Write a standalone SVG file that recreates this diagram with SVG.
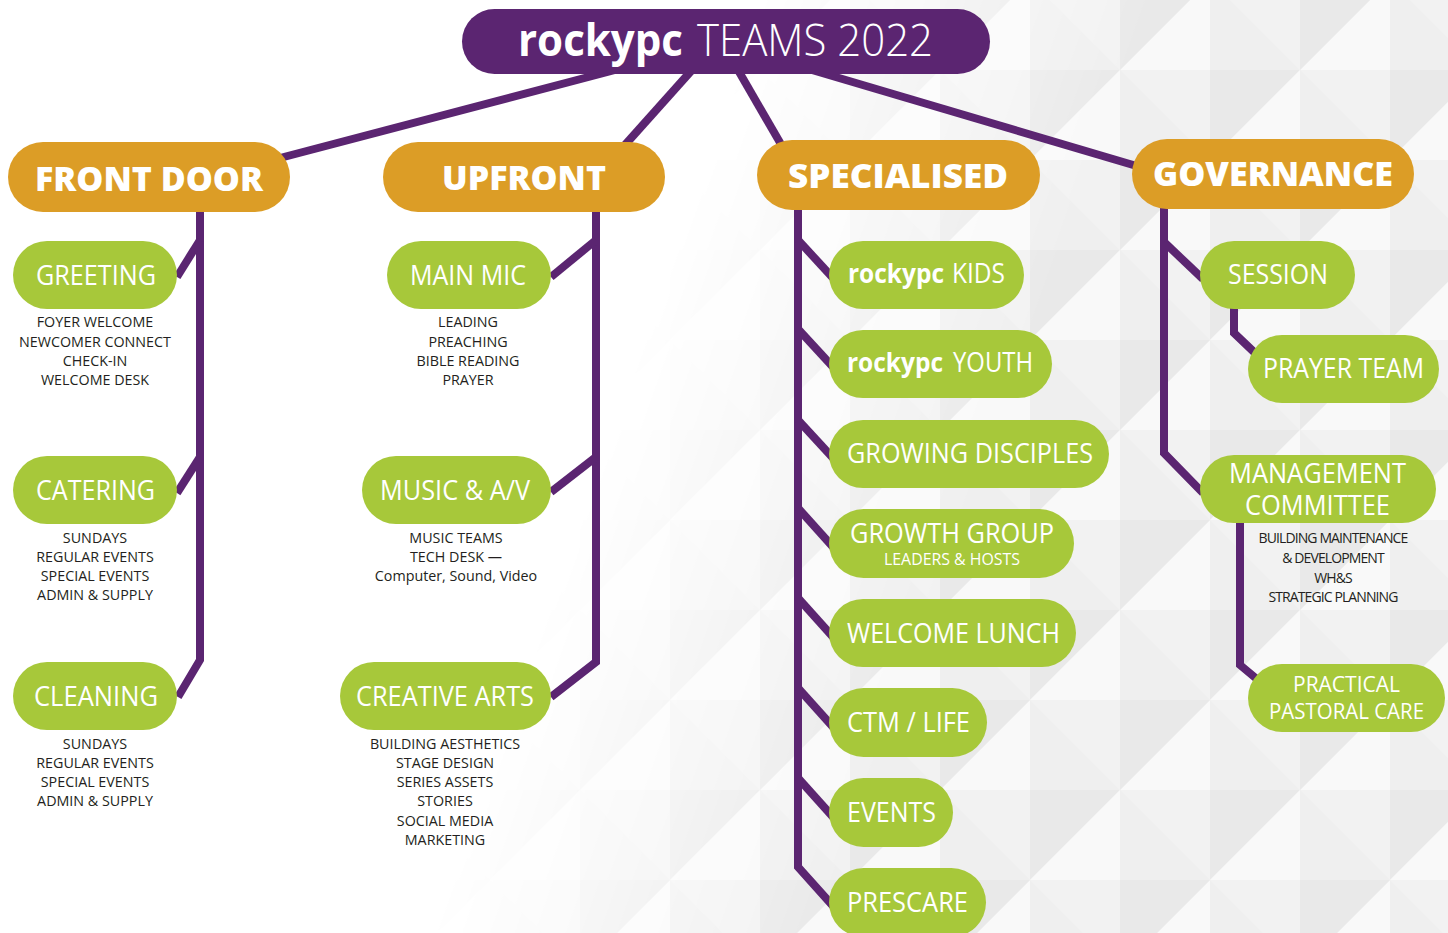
<svg xmlns="http://www.w3.org/2000/svg" width="1448" height="933" viewBox="0 0 1448 933">
<defs>
<style>
.conn{fill:none;stroke:#5b2571;stroke-width:8;stroke-linejoin:miter;stroke-linecap:butt}
.title{fill:#5b2571}
.cat{fill:#dc9d26}
.team{fill:#a7c83a}
.ct{font-family:"Open Sans","Noto Sans",sans-serif;font-weight:800;font-size:33px;fill:#fff}
.tl{font-family:"Open Sans","Noto Sans",sans-serif;font-weight:400;font-size:27px;fill:#fff}
.ts{font-family:"Open Sans","Noto Sans",sans-serif;font-weight:400;font-size:16px;fill:#fff}
.tm{font-family:"Open Sans","Noto Sans",sans-serif;font-weight:400;font-size:22px;fill:#fff}
.tb{font-family:"Open Sans","Noto Sans",sans-serif;font-weight:700;font-size:27px;fill:#fff}
.sub{font-family:"Open Sans","Noto Sans",sans-serif;font-weight:400;font-size:14.3px;fill:#231f20;text-anchor:middle}
.subc{font-family:"Open Sans","Noto Sans",sans-serif;font-weight:400;font-size:14px;fill:#231f20;text-anchor:middle;letter-spacing:-0.9px}
</style>
<pattern id="facets" width="180" height="180" patternUnits="userSpaceOnUse" x="40" y="-20">
<rect width="180" height="180" fill="#f3f3f3"/>
<polygon points="90,0 180,90 90,90" fill="#efefef"/>
<polygon points="180,90 90,180 90,90" fill="#e9e9e9"/>
<polygon points="90,180 0,90 90,90" fill="#f2f2f2"/>
<polygon points="0,90 90,0 90,90" fill="#f9f9f9"/>
<polygon points="0,0 90,0 0,90" fill="#e9e9e9"/>
<polygon points="180,0 180,90 90,0" fill="#f2f2f2"/>
<polygon points="0,180 0,90 90,180" fill="#efefef"/>
<polygon points="180,180 90,180 180,90" fill="#f9f9f9"/>
</pattern>
<linearGradient id="fadeG" gradientUnits="userSpaceOnUse" x1="600" y1="450" x2="950" y2="574">
<stop offset="0" stop-color="#000"/>
<stop offset="1" stop-color="#fff"/>
</linearGradient>
<mask id="fadeM">
<rect width="1448" height="933" fill="url(#fadeG)"/>
</mask>
</defs>

<rect width="1448" height="933" fill="#fff"/>
<rect width="1448" height="933" fill="url(#facets)" mask="url(#fadeM)"/>

<g id="connectors">
<line class="conn" x1="615" y1="70" x2="280" y2="158"/>
<line class="conn" x1="692" y1="70" x2="624" y2="146"/>
<line class="conn" x1="738" y1="70" x2="782" y2="146"/>
<line class="conn" x1="812" y1="70" x2="1140" y2="167"/>

<polyline class="conn" points="200,208 200,660 178,697"/>
<line class="conn" x1="200" y1="240" x2="177" y2="277"/>
<line class="conn" x1="200" y1="457" x2="177" y2="493"/>

<polyline class="conn" points="596,208 596,662 551,697"/>
<line class="conn" x1="596" y1="240" x2="551" y2="277"/>
<line class="conn" x1="596" y1="457" x2="551" y2="492"/>

<polyline class="conn" points="798,206 798,867 833,906"/>
<line class="conn" x1="798" y1="240" x2="833" y2="278"/>
<line class="conn" x1="798" y1="329" x2="833" y2="367"/>
<line class="conn" x1="798" y1="420" x2="833" y2="458"/>
<line class="conn" x1="798" y1="508" x2="833" y2="547"/>
<line class="conn" x1="798" y1="598" x2="833" y2="637"/>
<line class="conn" x1="798" y1="688" x2="833" y2="727"/>
<line class="conn" x1="798" y1="778" x2="833" y2="817"/>

<polyline class="conn" points="1164,205 1164,453 1203,493"/>
<line class="conn" x1="1164" y1="242" x2="1203" y2="279"/>
<polyline class="conn" points="1234,305 1234,333 1255,353"/>
<polyline class="conn" points="1240,520 1240,665 1258,680"/>
</g>

<g id="title">
<rect class="title" x="462" y="9" width="528" height="65" rx="32.5"/>
<text x="518" y="56" font-family="Open Sans, Noto Sans, sans-serif" font-weight="700" font-size="45" fill="#fff" textLength="165" lengthAdjust="spacingAndGlyphs">rockypc</text>
<text x="697" y="56" font-family="Open Sans, Noto Sans, sans-serif" font-weight="300" font-size="45" fill="#fff" textLength="236" lengthAdjust="spacingAndGlyphs">TEAMS 2022</text>
</g>

<g id="front-door">
<rect class="cat" x="8" y="142" width="282" height="70" rx="35"/>
<text class="ct" x="35" y="191" textLength="228" lengthAdjust="spacingAndGlyphs">FRONT DOOR</text>
</g>
<g id="upfront">
<rect class="cat" x="383" y="142" width="282" height="70" rx="35"/>
<text class="ct" x="442" y="190" textLength="164" lengthAdjust="spacingAndGlyphs">UPFRONT</text>
</g>
<g id="specialised">
<rect class="cat" x="757" y="140" width="283" height="70" rx="35"/>
<text class="ct" x="788" y="188" textLength="220" lengthAdjust="spacingAndGlyphs">SPECIALISED</text>
</g>
<g id="governance">
<rect class="cat" x="1132" y="139" width="282" height="70" rx="35"/>
<text class="ct" x="1153" y="186" textLength="240" lengthAdjust="spacingAndGlyphs">GOVERNANCE</text>
</g>

<g id="greeting">
<rect class="team" x="13" y="241" width="164" height="68" rx="34"/>
<text class="tl" x="36" y="285" textLength="120" lengthAdjust="spacingAndGlyphs">GREETING</text>
<text class="sub" x="95" y="327">FOYER WELCOME</text>
<text class="sub" x="95" y="347">NEWCOMER CONNECT</text>
<text class="sub" x="95" y="366">CHECK-IN</text>
<text class="sub" x="95" y="385">WELCOME DESK</text>
</g>
<g id="catering">
<rect class="team" x="13" y="456" width="164" height="68" rx="34"/>
<text class="tl" x="36" y="500" textLength="119" lengthAdjust="spacingAndGlyphs">CATERING</text>
<text class="sub" x="95" y="543">SUNDAYS</text>
<text class="sub" x="95" y="562">REGULAR EVENTS</text>
<text class="sub" x="95" y="581">SPECIAL EVENTS</text>
<text class="sub" x="95" y="600">ADMIN &amp; SUPPLY</text>
</g>
<g id="cleaning">
<rect class="team" x="13" y="662" width="164" height="68" rx="34"/>
<text class="tl" x="34" y="706" textLength="124" lengthAdjust="spacingAndGlyphs">CLEANING</text>
<text class="sub" x="95" y="749">SUNDAYS</text>
<text class="sub" x="95" y="768">REGULAR EVENTS</text>
<text class="sub" x="95" y="787">SPECIAL EVENTS</text>
<text class="sub" x="95" y="806">ADMIN &amp; SUPPLY</text>
</g>

<g id="main-mic">
<rect class="team" x="387" y="241" width="164" height="68" rx="34"/>
<text class="tl" x="410" y="285" textLength="116" lengthAdjust="spacingAndGlyphs">MAIN MIC</text>
<text class="sub" x="468" y="327">LEADING</text>
<text class="sub" x="468" y="347">PREACHING</text>
<text class="sub" x="468" y="366">BIBLE READING</text>
<text class="sub" x="468" y="385">PRAYER</text>
</g>
<g id="music-av">
<rect class="team" x="362" y="456" width="189" height="68" rx="34"/>
<text class="tl" x="380" y="500" textLength="150" lengthAdjust="spacingAndGlyphs">MUSIC &amp; A/V</text>
<text class="sub" x="456" y="543">MUSIC TEAMS</text>
<text class="sub" x="456" y="562">TECH DESK —</text>
<text class="sub" x="456" y="581">Computer, Sound, Video</text>
</g>
<g id="creative-arts">
<rect class="team" x="340" y="662" width="211" height="68" rx="34"/>
<text class="tl" x="356" y="706" textLength="178" lengthAdjust="spacingAndGlyphs">CREATIVE ARTS</text>
<text class="sub" x="445" y="749">BUILDING AESTHETICS</text>
<text class="sub" x="445" y="768">STAGE DESIGN</text>
<text class="sub" x="445" y="787">SERIES ASSETS</text>
<text class="sub" x="445" y="806">STORIES</text>
<text class="sub" x="445" y="826">SOCIAL MEDIA</text>
<text class="sub" x="445" y="845">MARKETING</text>
</g>

<g id="rockypc-kids">
<rect class="team" x="829" y="241" width="195" height="68" rx="34"/>
<text class="tb" x="848" y="283" textLength="96" lengthAdjust="spacingAndGlyphs">rockypc</text>
<text class="tl" x="952" y="283" textLength="53" lengthAdjust="spacingAndGlyphs">KIDS</text>
</g>
<g id="rockypc-youth">
<rect class="team" x="829" y="330" width="223" height="68" rx="34"/>
<text class="tb" x="847" y="372" textLength="96" lengthAdjust="spacingAndGlyphs">rockypc</text>
<text class="tl" x="953" y="372" textLength="80" lengthAdjust="spacingAndGlyphs">YOUTH</text>
</g>
<g id="growing-disciples">
<rect class="team" x="829" y="420" width="280" height="68" rx="34"/>
<text class="tl" x="847" y="463" textLength="246" lengthAdjust="spacingAndGlyphs">GROWING DISCIPLES</text>
</g>
<g id="growth-group">
<rect class="team" x="829" y="509" width="245" height="69" rx="34.5"/>
<text class="tl" x="850" y="543" textLength="204" lengthAdjust="spacingAndGlyphs">GROWTH GROUP</text>
<text class="ts" x="884" y="565" textLength="136" lengthAdjust="spacingAndGlyphs">LEADERS &amp; HOSTS</text>
</g>
<g id="welcome-lunch">
<rect class="team" x="829" y="599" width="247" height="68" rx="34"/>
<text class="tl" x="847" y="643" textLength="213" lengthAdjust="spacingAndGlyphs">WELCOME LUNCH</text>
</g>
<g id="ctm-life">
<rect class="team" x="829" y="688" width="158" height="69" rx="34.5"/>
<text class="tl" x="847" y="732" textLength="123" lengthAdjust="spacingAndGlyphs">CTM / LIFE</text>
</g>
<g id="events">
<rect class="team" x="829" y="778" width="124" height="69" rx="34.5"/>
<text class="tl" x="847" y="822" textLength="89" lengthAdjust="spacingAndGlyphs">EVENTS</text>
</g>
<g id="prescare">
<rect class="team" x="829" y="868" width="157" height="69" rx="34.5"/>
<text class="tl" x="847" y="912" textLength="121" lengthAdjust="spacingAndGlyphs">PRESCARE</text>
</g>

<g id="session">
<rect class="team" x="1200" y="241" width="155" height="68" rx="34"/>
<text class="tl" x="1228" y="284" textLength="100" lengthAdjust="spacingAndGlyphs">SESSION</text>
</g>
<g id="prayer-team">
<rect class="team" x="1248" y="335" width="191" height="68" rx="34"/>
<text class="tl" x="1263" y="378" textLength="161" lengthAdjust="spacingAndGlyphs">PRAYER TEAM</text>
</g>
<g id="management-committee">
<rect class="team" x="1200" y="455" width="236" height="68" rx="34"/>
<text class="tl" x="1229" y="483" textLength="177" lengthAdjust="spacingAndGlyphs">MANAGEMENT</text>
<text class="tl" x="1245" y="515" textLength="145" lengthAdjust="spacingAndGlyphs">COMMITTEE</text>
<text class="subc" x="1333" y="543">BUILDING MAINTENANCE</text>
<text class="subc" x="1333" y="563">&amp; DEVELOPMENT</text>
<text class="subc" x="1333" y="583">WH&amp;S</text>
<text class="subc" x="1333" y="602">STRATEGIC PLANNING</text>
</g>
<g id="practical-pastoral-care">
<rect class="team" x="1248" y="664" width="197" height="68" rx="34"/>
<text class="tm" x="1293" y="692" textLength="107" lengthAdjust="spacingAndGlyphs">PRACTICAL</text>
<text class="tm" x="1269" y="719" textLength="155" lengthAdjust="spacingAndGlyphs">PASTORAL CARE</text>
</g>
</svg>
